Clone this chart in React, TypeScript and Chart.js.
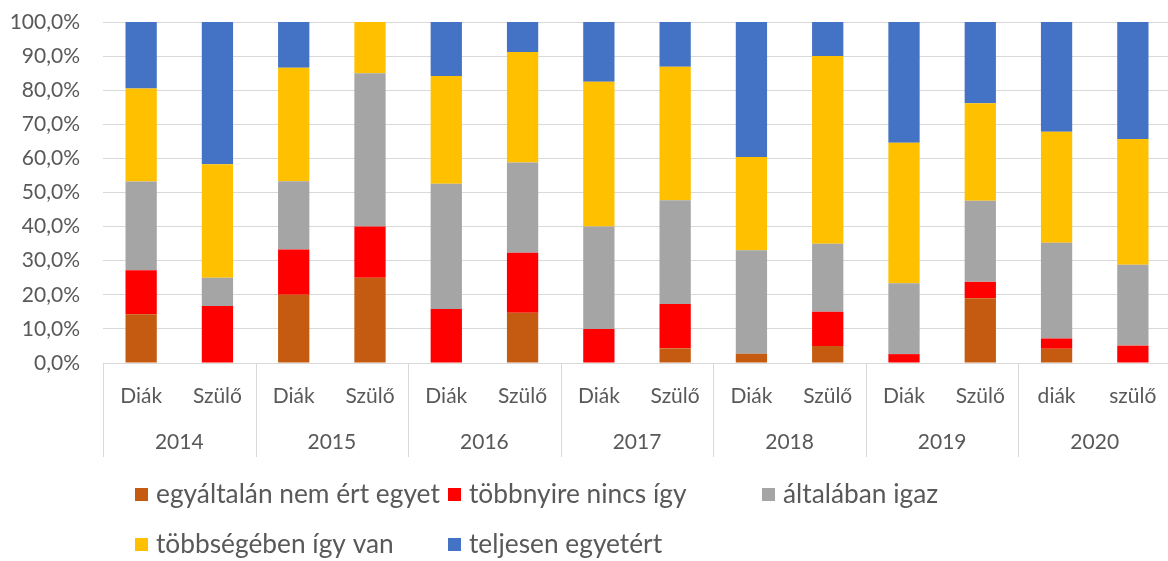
import React, { useEffect, useRef } from "react";
import { Chart, registerables } from "chart.js";

Chart.register(...registerables);

const categories = ["Diák", "Szülő", "Diák", "Szülő", "Diák", "Szülő", "Diák", "Szülő", "Diák", "Szülő", "Diák", "Szülő", "diák", "szülő"];
const years = ["2014", "2015", "2016", "2017", "2018", "2019", "2020"];
const seriesNames = ["egyáltalán nem ért egyet", "többnyire nincs így", "általában igaz", "többségében így van", "teljesen egyetért"];
const egyaltalan = [14.3, 0, 20, 25, 0, 14.7, 0, 4.3, 2.7, 5, 0, 19.0, 4.2, 0];
const tobbnyire = [12.9, 16.7, 13.3, 15, 15.8, 17.6, 10, 13.0, 0, 10, 2.6, 4.8, 3.0, 5.1];
const altalaban = [26.0, 8.3, 20, 45, 36.8, 26.5, 30, 30.4, 30.4, 20, 20.8, 23.8, 28.1, 23.7];
const tobbsegeben = [27.3, 33.3, 33.3, 15, 31.6, 32.4, 42.5, 39.2, 27.3, 55, 41.2, 28.6, 32.5, 36.9];
const teljesen = [19.5, 41.7, 13.4, 0, 15.8, 8.8, 17.5, 13.1, 39.6, 10, 35.4, 23.8, 32.2, 34.3];
const yTicks = [0, 10, 20, 30, 40, 50, 60, 70, 80, 90, 100];

const colors = ["#C55A11", "#FF0000", "#A5A5A5", "#FFC000", "#4472C4"];
const FONT = "Lato";
const TEXT = "#595959";
const GRID = "#d9d9d9";

const overlayPlugin = {
  id: "overlay",
  afterDraw(chart: any) {
    const ctx = chart.ctx;
    const xs = chart.scales.x;
    const area = chart.chartArea;
    const step = xs.getPixelForValue(1) - xs.getPixelForValue(0);
    ctx.save();
    ctx.strokeStyle = GRID;
    ctx.lineWidth = 1;
    for (let g = 0; g <= years.length; g++) {
      const px = Math.round(xs.getPixelForValue(g * 2) - step / 2) + 0.5;
      ctx.beginPath();
      ctx.moveTo(px, area.bottom);
      ctx.lineTo(px, area.bottom + 94);
      ctx.stroke();
    }
    ctx.fillStyle = TEXT;
    ctx.font = `21px ${FONT}`;
    ctx.textAlign = "center";
    ctx.textBaseline = "alphabetic";
    categories.forEach((c, i) => {
      ctx.fillText(c, xs.getPixelForValue(i), area.bottom + 40);
    });
    years.forEach((y, g) => {
      const cx = (xs.getPixelForValue(g * 2) + xs.getPixelForValue(g * 2 + 1)) / 2;
      ctx.fillText(y, cx, area.bottom + 86);
    });
    const colX = [135, 448, 762];
    const rowBase = [503, 553];
    ctx.font = `26.3px ${FONT}`;
    ctx.textAlign = "left";
    chart.data.datasets.forEach((ds: any, i: number) => {
      const col = i < 3 ? i : i - 3;
      const row = i < 3 ? 0 : 1;
      const x0 = colX[col];
      const yb = rowBase[row];
      ctx.fillStyle = ds.backgroundColor;
      ctx.fillRect(x0, yb - 15, 13, 13);
      ctx.fillStyle = TEXT;
      ctx.fillText(ds.label, x0 + 21, yb);
    });
    ctx.restore();
  },
};

export default function App() {
  const ref = useRef<HTMLCanvasElement>(null);
  useEffect(() => {
    if (!ref.current) return;
    const series = [egyaltalan, tobbnyire, altalaban, tobbsegeben, teljesen];
    const chart = new Chart(ref.current, {
      type: "bar",
      data: {
        labels: categories,
        datasets: series.map((d, i) => ({
          label: seriesNames[i],
          data: d,
          backgroundColor: colors[i],
          borderWidth: 0,
          barPercentage: 0.41,
          categoryPercentage: 1.0,
        })),
      },
      options: {
        animation: false,
        responsive: false,
        layout: { padding: { top: 22, bottom: 198, left: 0, right: 0 } },
        plugins: { legend: { display: false }, tooltip: { enabled: false } },
        scales: {
          x: { stacked: true, display: false },
          y: {
            stacked: true,
            min: 0,
            max: 100,
            afterBuildTicks(scale: any) {
              scale.ticks = yTicks.map((v) => ({ value: v }));
            },
            afterFit(scale: any) {
              scale.width = 103;
              scale.paddingTop = 0;
              scale.paddingBottom = 0;
            },
            ticks: {
              color: TEXT,
              font: { family: FONT, size: 21 },
              padding: 23,
              callback: (v: any) => Number(v).toFixed(1).replace(".", ",") + "%",
            },
            grid: { color: GRID, lineWidth: 1, drawTicks: false },
            border: { display: false },
          },
        },
      },
      plugins: [overlayPlugin],
    });
    return () => chart.destroy();
  }, []);
  return (
    <div style={{ position: "fixed", left: 0, top: 0, width: 1168, height: 561, overflow: "hidden", background: "#fff" }}>
      <canvas ref={ref} width={1171} height={561} style={{ display: "block" }} />
    </div>
  );
}
